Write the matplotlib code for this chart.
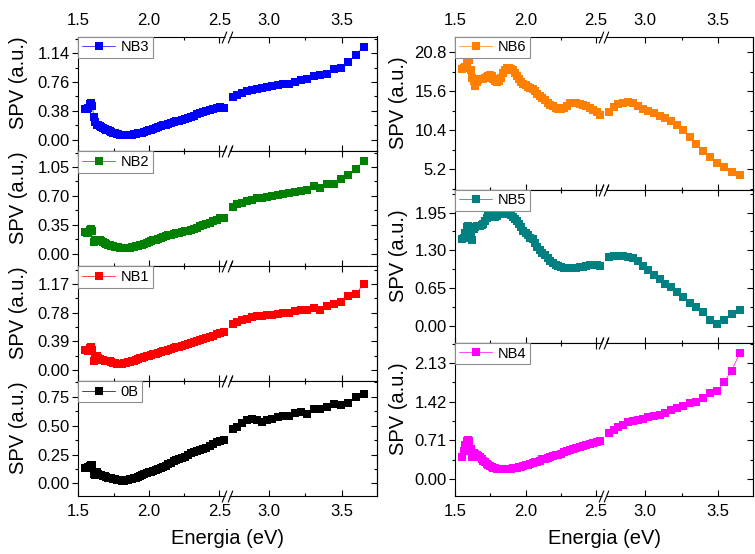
"""
SPV spectra of the 0B / NB1-NB6 samples, two stacked columns on a broken
energy axis (Origin-style "//" break between ~2.54 and ~2.73 eV).
"""

import numpy as np
import matplotlib
matplotlib.use("Agg")
import matplotlib.pyplot as plt
from matplotlib.ticker import AutoMinorLocator, FormatStrFormatter

plt.rcParams["font.family"] = ["Liberation Sans", "DejaVu Sans"]

# photon energies (eV), 5 nm steps: 800-490 nm and 450-340 nm
E_LOW = [1.550, 1.560, 1.570, 1.580, 1.590, 1.600, 1.610, 1.621, 1.632, 1.642,
         1.653, 1.664, 1.676, 1.687, 1.699, 1.710, 1.722, 1.734, 1.746, 1.759,
         1.771, 1.784, 1.797, 1.810, 1.824, 1.837, 1.851, 1.865, 1.879, 1.893,
         1.908, 1.922, 1.938, 1.953, 1.968, 1.984, 2.000, 2.016, 2.033, 2.050,
         2.067, 2.084, 2.102, 2.120, 2.138, 2.157, 2.175, 2.195, 2.214, 2.234,
         2.255, 2.275, 2.296, 2.318, 2.340, 2.362, 2.385, 2.408, 2.431, 2.455,
         2.480, 2.505, 2.531]
E_HIGH = [2.756, 2.787, 2.818, 2.851, 2.884, 2.918, 2.952, 2.988, 3.024, 3.062,
          3.100, 3.139, 3.179, 3.221, 3.263, 3.307, 3.351, 3.397, 3.444, 3.493,
          3.543, 3.594, 3.647]

NB3_LOW = [0.41, 0.41, 0.42, 0.47, 0.48, 0.44, 0.30, 0.23, 0.20, 0.19,
           0.18, 0.17, 0.155, 0.14, 0.13, 0.125, 0.11, 0.10, 0.09, 0.085,
           0.075, 0.07, 0.065, 0.06, 0.06, 0.058, 0.058, 0.06, 0.065, 0.07,
           0.08, 0.085, 0.09, 0.095, 0.10, 0.11, 0.125, 0.13, 0.14, 0.155,
           0.17, 0.18, 0.19, 0.20, 0.21, 0.215, 0.23, 0.24, 0.25, 0.26,
           0.27, 0.285, 0.30, 0.315, 0.335, 0.35, 0.365, 0.38, 0.395, 0.405,
           0.415, 0.43, 0.42]
NB3_HIGH = [0.557, 0.59, 0.62, 0.645, 0.66, 0.67, 0.675, 0.69, 0.71, 0.72,
            0.73, 0.74, 0.76, 0.79, 0.80, 0.84, 0.85, 0.87, 0.93, 0.94,
            1.02, 1.12, 1.22]

NB2_LOW = [0.26, 0.25, 0.26, 0.29, 0.30, 0.27, 0.14, 0.17, 0.16, 0.17,
           0.16, 0.15, 0.14, 0.13, 0.12, 0.11, 0.10, 0.095, 0.09, 0.085,
           0.08, 0.075, 0.07, 0.068, 0.065, 0.065, 0.068, 0.07, 0.075, 0.08,
           0.09, 0.095, 0.10, 0.11, 0.12, 0.13, 0.14, 0.15, 0.16, 0.17,
           0.18, 0.19, 0.20, 0.21, 0.22, 0.23, 0.235, 0.245, 0.255, 0.26,
           0.27, 0.28, 0.29, 0.30, 0.315, 0.33, 0.345, 0.36, 0.375, 0.395,
           0.41, 0.43, 0.43]
NB2_HIGH = [0.56, 0.60, 0.62, 0.64, 0.65, 0.67, 0.68, 0.69, 0.70, 0.71,
            0.72, 0.73, 0.745, 0.76, 0.77, 0.82, 0.79, 0.84, 0.85, 0.90,
            0.95, 1.03, 1.12]

NB1_LOW = [0.27, 0.27, 0.26, 0.30, 0.31, 0.27, 0.13, 0.17, 0.19, 0.17,
           0.15, 0.14, 0.14, 0.13, 0.13, 0.12, 0.12, 0.11, 0.10, 0.095,
           0.09, 0.088, 0.088, 0.09, 0.095, 0.10, 0.11, 0.115, 0.12, 0.13,
           0.14, 0.15, 0.16, 0.17, 0.18, 0.19, 0.195, 0.205, 0.215, 0.225,
           0.235, 0.245, 0.255, 0.265, 0.275, 0.285, 0.30, 0.31, 0.32, 0.33,
           0.345, 0.36, 0.37, 0.385, 0.40, 0.41, 0.425, 0.44, 0.455, 0.47,
           0.485, 0.50, 0.515]
NB1_HIGH = [0.63, 0.66, 0.68, 0.70, 0.72, 0.73, 0.74, 0.75, 0.755, 0.76,
            0.77, 0.775, 0.80, 0.81, 0.815, 0.84, 0.815, 0.87, 0.90, 0.92,
            1.00, 1.03, 1.17]

B0_LOW = [0.135, 0.135, 0.14, 0.15, 0.16, 0.155, 0.08, 0.07, 0.10, 0.08,
          0.075, 0.07, 0.065, 0.06, 0.055, 0.05, 0.048, 0.045, 0.04, 0.035,
          0.033, 0.03, 0.03, 0.025, 0.025, 0.028, 0.03, 0.035, 0.04, 0.045,
          0.05, 0.055, 0.065, 0.07, 0.08, 0.09, 0.095, 0.10, 0.11, 0.12,
          0.125, 0.13, 0.14, 0.15, 0.165, 0.175, 0.19, 0.20, 0.21, 0.22,
          0.23, 0.245, 0.26, 0.27, 0.28, 0.29, 0.30, 0.31, 0.325, 0.34,
          0.36, 0.37, 0.38]
B0_HIGH = [0.47, 0.49, 0.52, 0.545, 0.555, 0.545, 0.535, 0.545, 0.555, 0.575,
           0.58, 0.58, 0.61, 0.615, 0.605, 0.645, 0.64, 0.66, 0.69, 0.68,
           0.70, 0.75, 0.775]

NB6_LOW = [18.6, 18.7, 18.9, 19.5, 19.8, 19.8, 18.5, 17.4, 17.0, 16.3,
           16.8, 17.1, 17.2, 17.3, 17.3, 17.4, 17.5, 17.7, 17.8, 17.6,
           17.3, 17.0, 16.9, 17.0, 17.4, 18.0, 18.5, 18.7, 18.7, 18.6,
           18.4, 18.1, 17.7, 17.3, 16.9, 16.6, 16.4, 16.2, 16.1, 15.9,
           15.6, 15.3, 15.0, 14.7, 14.4, 14.1, 13.8, 13.6, 13.4, 13.3,
           13.3, 13.4, 13.6, 14.0, 14.1, 14.1, 13.9, 13.8, 13.6, 13.4,
           13.1, 12.8, 12.5]
NB6_HIGH = [12.9, 13.5, 13.9, 14.1, 14.2, 14.0, 13.7, 13.3, 13.0, 12.7,
            12.3, 12.0, 11.6, 11.1, 10.4, 9.5, 8.6, 7.7, 6.8, 6.0,
            5.5, 4.9, 4.4]

NB5_LOW = [1.50, 1.52, 1.60, 1.70, 1.72, 1.68, 1.62, 1.48, 1.66, 1.70,
           1.71, 1.71, 1.72, 1.73, 1.76, 1.80, 1.86, 1.90, 1.91, 1.90,
           1.88, 1.87, 1.89, 1.92, 1.93, 1.93, 1.92, 1.93, 1.92, 1.91,
           1.88, 1.84, 1.80, 1.75, 1.70, 1.64, 1.59, 1.56, 1.52, 1.50,
           1.42, 1.35, 1.30, 1.26, 1.22, 1.17, 1.12, 1.08, 1.05, 1.03,
           1.01, 1.00, 1.00, 0.99, 1.00, 1.00, 1.01, 1.02, 1.03, 1.04,
           1.04, 1.04, 1.03]
NB5_HIGH = [1.18, 1.20, 1.21, 1.21, 1.19, 1.16, 1.11, 1.03, 0.96, 0.88,
            0.80, 0.72, 0.67, 0.58, 0.50, 0.39, 0.32, 0.24, 0.11, 0.03,
            0.10, 0.20, 0.28]

NB4_LOW = [0.40, 0.52, 0.63, 0.70, 0.72, 0.70, 0.55, 0.40, 0.48, 0.46,
           0.44, 0.42, 0.40, 0.37, 0.34, 0.31, 0.28, 0.26, 0.24, 0.22,
           0.21, 0.20, 0.19, 0.18, 0.18, 0.18, 0.18, 0.18, 0.185, 0.19,
           0.195, 0.20, 0.21, 0.22, 0.23, 0.24, 0.25, 0.26, 0.28, 0.29,
           0.31, 0.32, 0.34, 0.36, 0.37, 0.39, 0.40, 0.42, 0.44, 0.45,
           0.47, 0.49, 0.51, 0.53, 0.55, 0.57, 0.59, 0.61, 0.62, 0.64,
           0.66, 0.68, 0.70]
NB4_HIGH = [0.85, 0.90, 0.96, 1.00, 1.04, 1.07, 1.09, 1.10, 1.14, 1.16,
            1.18, 1.21, 1.27, 1.30, 1.35, 1.40, 1.42, 1.49, 1.58, 1.61,
            1.79, 1.99, 2.31]

# y ticks per panel
YT_NB3 = [0.00, 0.38, 0.76, 1.14]
YT_NB2 = [0.00, 0.35, 0.70, 1.05]
YT_NB1 = [0.00, 0.39, 0.78, 1.17]
YT_B0 = [0.00, 0.25, 0.50, 0.75]
YT_NB6 = [5.2, 10.4, 15.6, 20.8]
YT_NB5 = [0.00, 0.65, 1.30, 1.95]
YT_NB4 = [0.00, 0.71, 1.42, 2.13]

X_MAJOR = [1.5, 2.0, 2.5, 3.0, 3.5]
X_MINOR = [1.75, 2.25, 3.25]

# broken axis geometry (pixel-ish units)
X0, X_END = 1.5, 3.737
B1, B2 = 2.54, 2.73
K1, K2, GAP = 141.0, 146.6, 4.0
U1 = K1 * (B1 - X0)


def fwd(e):
    e = np.asarray(e, dtype=float)
    return (K1 * (np.minimum(e, B1) - X0)
            + GAP * np.clip((e - B1) / (B2 - B1), 0, 1)
            + K2 * np.maximum(e - B2, 0))


def inv(u):
    u = np.asarray(u, dtype=float)
    return np.where(u <= U1, X0 + u / K1,
                    np.where(u <= U1 + GAP, B1 + (u - U1) / GAP * (B2 - B1),
                             B2 + (u - U1 - GAP) / K2))


def draw_panel(ax, name, low, high, color, yticks, ylim, fmt,
               top_labels, bottom_labels, label_y):
    x = np.concatenate([E_LOW, [np.nan], E_HIGH])
    y = np.concatenate([low, [np.nan], high])
    ax.plot(x, y, color=color, lw=0.5, marker="s", ms=5.2, mec=color,
            mfc=color, mew=0, label=name)

    ax.set_xscale("function", functions=(fwd, inv))
    ax.set_xlim(X0, X_END)
    ax.set_xticks(X_MAJOR)
    ax.set_xticks(X_MINOR, minor=True)
    ax.xaxis.set_major_formatter(FormatStrFormatter("%.1f"))
    ax.tick_params(axis="x", which="both", direction="in", top=True,
                   bottom=True, labeltop=top_labels,
                   labelbottom=bottom_labels, labelsize=12, pad=6)
    ax.tick_params(axis="x", which="major", length=4, width=0.8)
    ax.tick_params(axis="x", which="minor", length=2.5, width=0.8)

    ax.set_ylim(*ylim)
    ax.set_yticks(yticks)
    ax.yaxis.set_minor_locator(AutoMinorLocator(2))
    ax.yaxis.set_major_formatter(FormatStrFormatter(fmt))
    ax.tick_params(axis="y", which="both", direction="out", left=True,
                   right=False, labelsize=12, pad=2)
    ax.tick_params(axis="y", which="major", length=4, width=0.8)
    ax.tick_params(axis="y", which="minor", length=2.5, width=0.8)

    # mirrored inward ticks on the right
    sec = ax.secondary_yaxis("right")
    sec.set_yticks(yticks)
    sec.yaxis.set_minor_locator(AutoMinorLocator(2))
    sec.tick_params(which="both", direction="in", labelright=False)
    sec.tick_params(which="major", length=4, width=0.8)
    sec.tick_params(which="minor", length=2.5, width=0.8)
    sec.spines["right"].set_linewidth(0.8)

    for s in ax.spines.values():
        s.set_linewidth(0.8)

    ax.set_ylabel("SPV (a.u.)", fontsize=14.5)
    ax.yaxis.set_label_coords(label_y[0], label_y[1])

    leg = ax.legend(loc="upper left", bbox_to_anchor=(0, 1),
                    borderaxespad=0, fontsize=10.5, fancybox=False,
                    framealpha=1, edgecolor="#8c8c8c", handlelength=2.3,
                    handletextpad=0.35, borderpad=0.25)
    leg.get_frame().set_linewidth(0.8)

    # "//" break marks on bottom and top spines
    tr = ax.get_xaxis_transform()
    for yy in (0, 1):
        ax.plot([B1, B2], [yy, yy], transform=tr, color="white", lw=2.5,
                solid_capstyle="butt", clip_on=False, zorder=5)
        ax.plot([B1 - 0.005, B2 + 0.005], [yy, yy], transform=tr,
                linestyle="none", marker=[(-1, -2.5), (1, 2.5)], ms=8.5,
                mfc="none", mec="black", mew=0.8, clip_on=False, zorder=6)


def main() -> None:
    W, H = 755.0, 554.0
    fig = plt.figure(figsize=(W / 100, H / 100), dpi=100)

    left = [("NB3", NB3_LOW, NB3_HIGH, "#0000ff", YT_NB3, (-0.154, 1.36), "%.2f"),
            ("NB2", NB2_LOW, NB2_HIGH, "#008000", YT_NB2, (-0.154, 1.24), "%.2f"),
            ("NB1", NB1_LOW, NB1_HIGH, "#ff0000", YT_NB1, (-0.15, 1.41), "%.2f"),
            ("0B", B0_LOW, B0_HIGH, "#000000", YT_B0, (-0.11, 0.885), "%.2f")]
    right = [("NB6", NB6_LOW, NB6_HIGH, "#ff8000", YT_NB6, (2.47, 22.9), "%.1f"),
             ("NB5", NB5_LOW, NB5_HIGH, "#008080", YT_NB5, (-0.29, 2.34), "%.2f"),
             ("NB4", NB4_LOW, NB4_HIGH, "#ff00ff", YT_NB4, (-0.31, 2.50), "%.2f")]

    cols = [(left, 78.3, 298.4, 36.5, 114.9, (-0.167, 0.596), -0.29),
            (right, 455.3, 297.4, 36.7, 153.1, (-0.158, 0.569), -0.218)]
    for panels, x0, w, top, h, lab, xlab_y in cols:
        n = len(panels)
        for i, (name, low, high, color, yt, yl, fmt) in enumerate(panels):
            t = top + i * h
            ax = fig.add_axes([x0 / W, 1 - (t + h) / H, w / W, h / H])
            draw_panel(ax, name, low, high, color, yt, yl, fmt,
                       top_labels=(i == 0), bottom_labels=(i == n - 1),
                       label_y=lab)
            if i == n - 1:
                ax.set_xlabel("Energia (eV)", fontsize=14.5)
                ax.xaxis.set_label_coords(0.5, xlab_y)

    fig.savefig("out.png", dpi=100)
    plt.close(fig)


if __name__ == "__main__":
    main()
